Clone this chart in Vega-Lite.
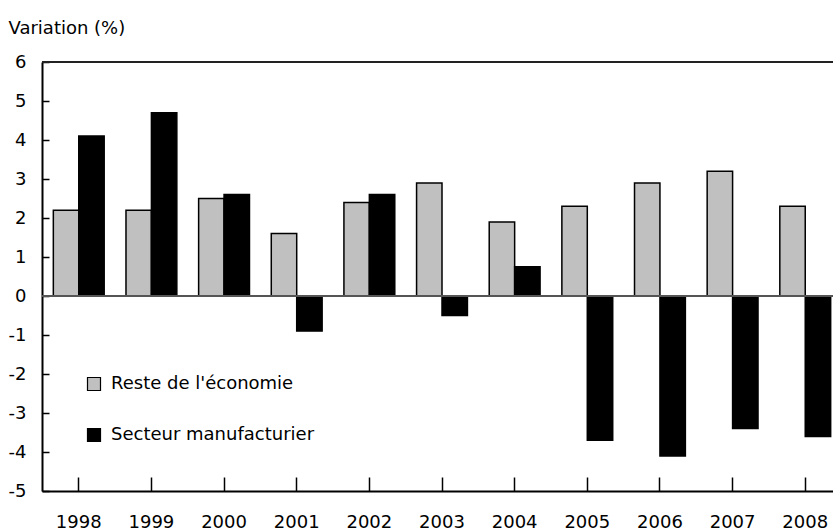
{
  "$schema": "https://vega.github.io/schema/vega-lite/v6.json",
  "width": 791,
  "height": 429,
  "autosize": {"type": "none"},
  "padding": {"left": 42, "top": 62, "right": 0, "bottom": 40},
  "background": "white",
  "config": {
    "font": "DejaVu Sans",
    "view": {"stroke": null},
    "axis": {"labelFont": "DejaVu Sans", "titleFont": "DejaVu Sans", "labelColor": "black", "titleColor": "black"}
  },
  "data": {
    "values": [
      {"annee": "1998", "serie": "Reste de l'économie", "valeur": 2.2},
      {"annee": "1998", "serie": "Secteur manufacturier", "valeur": 4.1},
      {"annee": "1999", "serie": "Reste de l'économie", "valeur": 2.2},
      {"annee": "1999", "serie": "Secteur manufacturier", "valeur": 4.7},
      {"annee": "2000", "serie": "Reste de l'économie", "valeur": 2.5},
      {"annee": "2000", "serie": "Secteur manufacturier", "valeur": 2.6},
      {"annee": "2001", "serie": "Reste de l'économie", "valeur": 1.6},
      {"annee": "2001", "serie": "Secteur manufacturier", "valeur": -0.9},
      {"annee": "2002", "serie": "Reste de l'économie", "valeur": 2.4},
      {"annee": "2002", "serie": "Secteur manufacturier", "valeur": 2.6},
      {"annee": "2003", "serie": "Reste de l'économie", "valeur": 2.9},
      {"annee": "2003", "serie": "Secteur manufacturier", "valeur": -0.5},
      {"annee": "2004", "serie": "Reste de l'économie", "valeur": 1.9},
      {"annee": "2004", "serie": "Secteur manufacturier", "valeur": 0.75},
      {"annee": "2005", "serie": "Reste de l'économie", "valeur": 2.3},
      {"annee": "2005", "serie": "Secteur manufacturier", "valeur": -3.7},
      {"annee": "2006", "serie": "Reste de l'économie", "valeur": 2.9},
      {"annee": "2006", "serie": "Secteur manufacturier", "valeur": -4.1},
      {"annee": "2007", "serie": "Reste de l'économie", "valeur": 3.2},
      {"annee": "2007", "serie": "Secteur manufacturier", "valeur": -3.4},
      {"annee": "2008", "serie": "Reste de l'économie", "valeur": 2.3},
      {"annee": "2008", "serie": "Secteur manufacturier", "valeur": -3.6}
    ]
  },
  "resolve": {"axis": {"x": "independent", "y": "independent"}},
  "layer": [
    {
      "mark": {"type": "bar", "stroke": "black", "strokeWidth": 1.5, "clip": true},
      "encoding": {
        "x": {
          "field": "annee", "type": "nominal",
          "scale": {"range": [0, 800], "paddingInner": 0.3, "paddingOuter": 0.156},
          "axis": {
            "orient": "bottom",
            "title": null, "labelAngle": 0, "labelFontSize": 18,
            "domainColor": "black", "domainWidth": 2,
            "ticks": false, "labelPadding": 22, "grid": false
          }
        },
        "xOffset": {"field": "serie", "type": "nominal", "sort": ["Reste de l'économie", "Secteur manufacturier"]},
        "y": {
          "field": "valeur", "type": "quantitative",
          "scale": {"domain": [-5, 6], "nice": false},
          "axis": {
            "orient": "left",
            "values": [-5, -4, -3, -2, -1, 0, 1, 2, 3, 4, 5, 6],
            "labelExpr": "'' + datum.value",
            "labelOverlap": false,
            "grid": false, "labelFontSize": 18,
            "domainColor": "black", "domainWidth": 2,
            "ticks": false,
            "labelPadding": 16,
            "title": "Variation (%)", "titleAngle": 0, "titleAlign": "left",
            "titleBaseline": "alphabetic", "titleFontSize": 18, "titleFontWeight": "normal",
            "titleX": -34, "titleY": -29
          }
        },
        "color": {
          "field": "serie", "type": "nominal",
          "scale": {"domain": ["Reste de l'économie", "Secteur manufacturier"], "range": ["#c0c0c0", "#000000"]},
          "legend": {
            "title": null, "orient": "none", "legendX": 43, "legendY": 313,
            "direction": "vertical", "symbolType": "square", "symbolSize": 169,
            "symbolStrokeColor": "black", "symbolStrokeWidth": 1.2, "symbolOpacity": 1,
            "labelFontSize": 18, "labelFont": "DejaVu Sans", "labelColor": "black",
            "labelOffset": 8, "rowPadding": 33, "labelLimit": 0
          }
        }
      }
    },
    {
      "mark": {"type": "rule", "color": "#555555", "strokeWidth": 2},
      "encoding": {
        "y": {
          "datum": 0, "type": "quantitative",
          "axis": {
            "orient": "left",
            "values": [-5, -4, -3, -2, -1, 0, 1, 2, 3, 4, 5, 6],
            "domain": false, "labels": false, "grid": false, "title": null,
            "ticks": true, "tickSize": 7, "tickWidth": 1.5, "tickColor": "black",
            "offset": -7
          }
        }
      }
    },
    {
      "mark": {"type": "rule", "color": "#222222", "strokeWidth": 2},
      "encoding": {"y": {"datum": 6, "type": "quantitative", "axis": null}}
    },
    {
      "transform": [{"filter": "datum.serie === 'Reste de l\\'économie'"}],
      "mark": {"type": "tick", "opacity": 0},
      "encoding": {
        "x": {
          "field": "annee", "type": "nominal",
          "axis": {
            "orient": "bottom",
            "domain": false, "labels": false, "grid": false, "title": null,
            "ticks": true, "tickSize": 14, "tickWidth": 1.5, "tickColor": "black",
            "offset": -14
          }
        },
        "y": {"field": "valeur", "type": "quantitative", "axis": null}
      }
    }
  ]
}
